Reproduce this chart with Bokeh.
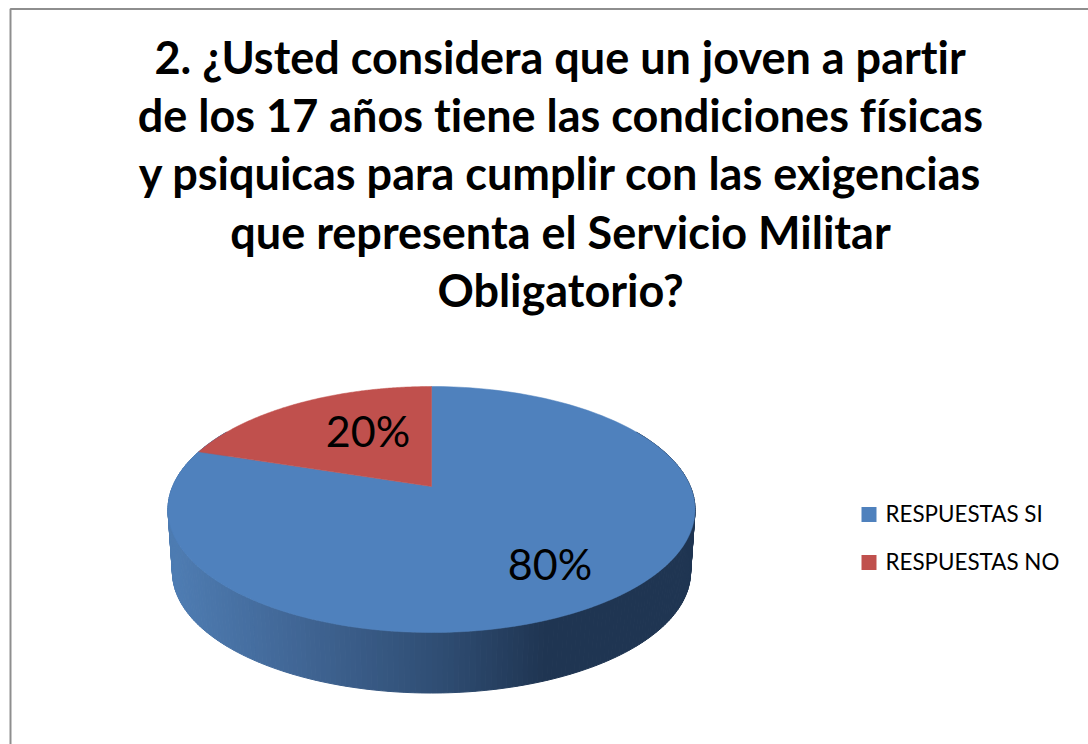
from bokeh.plotting import figure
from bokeh.models import Range1d
from bokeh.core.properties import value
from bokeh.embed import file_html
from bokeh.resources import INLINE
import numpy as np

# ---- data ----
categories = ["RESPUESTAS SI", "RESPUESTAS NO"]
percent = [80, 20]
colors = ["#4F81BD", "#C0504D"]
title_lines = [
    "2. ¿Usted considera que un joven a partir",
    "de los 17 años tiene las condiciones físicas",
    "y psiquicas para cumplir con las exigencias",
    "que representa el Servicio Militar",
    "Obligatorio?",
]

# ---- layout (pixels on the page) ----
W, H = 1088, 744
p = figure(width=W, height=H, output_backend="svg", toolbar_location=None,
           x_range=Range1d(0, W), y_range=Range1d(H, 0),
           min_border=0, min_border_left=0, min_border_right=0,
           min_border_top=0, min_border_bottom=0, outline_line_color=None,
           background_fill_color="white", border_fill_color="white")
p.axis.visible = False
p.grid.visible = False

# chart frame: only the left and top edges show in the reference
p.line([10, 10, 1088], [744, 8.5, 8.5], line_color="#8E8E8E", line_width=2)

# perspective projection of the pie disc
CX, CY, R, HGT, K = 431.0, 486.0, 258.9, 118.7, 0.187
DEPTH, SHRINK = 63.0, 0.983


def project(theta, rim=1.0, dy=0.0, scale=1.0):
    """theta: clockwise from 12 o'clock, radians"""
    u, v = np.sin(theta) * rim, np.cos(theta) * rim
    w = 1 + K * v
    return CX + scale * R * u / w, CY + dy - scale * HGT * v / w


def side_color(x):
    stops_x = [172, 300, 440, 545, 695]
    stops = np.array([[78, 124, 178], [64, 101, 148], [47, 77, 115], [31, 53, 82], [31, 53, 82]], float)
    c = [np.interp(x, stops_x, stops[:, i]) for i in range(3)]
    return "#%02x%02x%02x" % tuple(int(round(a)) for a in c)


# side wall (drawn first, the top surface covers the rest)
edges = np.radians(np.arange(60, 300.01, 1.0))
for a, b in zip(edges[:-1], edges[1:]):
    xa, ya = project(a)
    xb, yb = project(b)
    xc, yc = project(b, dy=DEPTH, scale=SHRINK)
    xd, yd = project(a, dy=DEPTH, scale=SHRINK)
    col = side_color((xa + xb) / 2)
    p.patch([xa, xb, xc, xd], [ya, yb, yc, yd], fill_color=col, line_color=col, line_width=1)

# top surface, slices clockwise from 12 o'clock
fractions = np.array(percent, float) / sum(percent)
start = 0.0
for frac, col in zip(fractions, colors):
    th = np.linspace(start, start + frac * 2 * np.pi, 200)
    xs, ys = project(th)
    p.patch(np.r_[CX, xs], np.r_[CY, ys], fill_color=col, line_color=col, line_width=0.5)
    start += frac * 2 * np.pi

# data labels
label_pos = [(549.5, 562.5), (367.5, 429.5)]
for pct, (lx, ly) in zip(percent, label_pos):
    p.text([lx], [ly], text=[f"{pct}%"], text_font=value("Lato"), text_font_size="43px",
           text_color="black", text_align="center", text_baseline="middle")

# title
for i, line in enumerate(title_lines):
    p.text([560], [56 + i * 58.4], text=[line], text_font=value("Lato"), text_font_style="bold",
           text_font_size="45px", text_color="black", text_align="center", text_baseline="middle")

# legend
for i, (cat, col) in enumerate(zip(categories, colors)):
    y = 514 + i * 48
    p.scatter([868.5], [y], marker="square", size=15, fill_color=col, line_color=None)
    p.text([885], [y - 1], text=[cat], text_font=value("Lato"), text_font_size="22.4px",
           text_color="black", text_align="left", text_baseline="middle")

html = file_html(p, INLINE)
html = html.replace("<head>", "<head><style>html,body{margin:0;overflow:hidden;font-variant-ligatures:none}</style>", 1)
open("out.html", "w").write(html)
